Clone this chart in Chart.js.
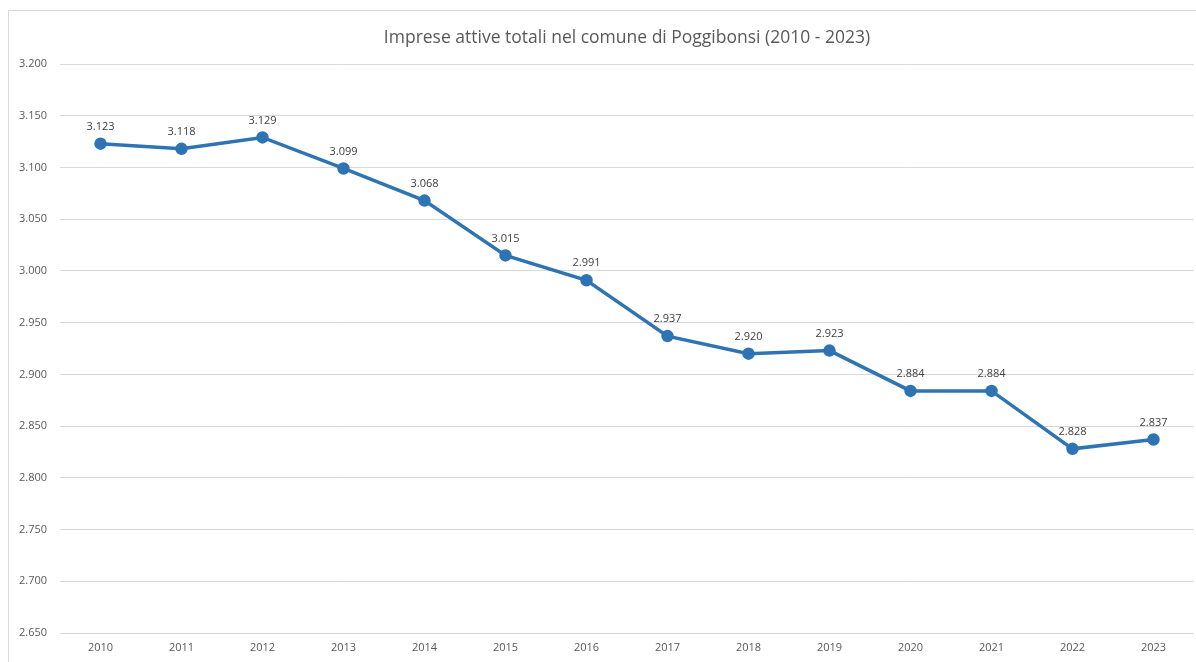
<!DOCTYPE html>
<html>
<head>
<meta charset="utf-8">
<script src="https://cdn.jsdelivr.net/npm/chart.js@4"></script>
<style>
  html, body { margin: 0; padding: 0; background: #fff; }
  body { width: 1196px; height: 662px; overflow: hidden; position: relative; }
  #box { position: absolute; left: 8px; top: 10px; width: 1196px; height: 660px;
         border-left: 1px solid #d9d9d9; border-top: 1px solid #d9d9d9; }
  #wrap { position: absolute; left: 8px; top: 10px; width: 1194px; height: 652px; }
</style>
</head>
<body>
<div id="box"></div>
<div id="wrap"><canvas id="chart"></canvas></div>
<script>
// ======= DATA =======
const ANNI = ["2010","2011","2012","2013","2014","2015","2016","2017","2018","2019","2020","2021","2022","2023"];
const IMPRESE = [3123, 3118, 3129, 3099, 3068, 3015, 2991, 2937, 2920, 2923, 2884, 2884, 2828, 2837];
const Y_MIN = 2650, Y_MAX = 3200, Y_STEP = 50;
const TITOLO = "Imprese attive totali nel comune di Poggibonsi (2010 - 2023)";

// ======= UTILS =======
function fmt(v){ return String(v).replace(/\B(?=(\d{3})+(?!\d))/g, "."); }

const FONT = "'Open Sans', 'Noto Sans', sans-serif";

// data labels above each point
const etichette = {
  id: "etichette",
  afterDatasetsDraw(chart){
    const ctx = chart.ctx;
    const meta = chart.getDatasetMeta(0);
    ctx.save();
    ctx.font = "11px " + FONT;
    ctx.fillStyle = "#404040";
    ctx.textAlign = "center";
    ctx.textBaseline = "middle";
    meta.data.forEach((pt, i) => {
      ctx.fillText(fmt(IMPRESE[i]), pt.x, pt.y - 17);
    });
    ctx.restore();
  }
};

// ======= CHART =======
new Chart(document.getElementById("chart"), {
  type: "line",
  data: {
    labels: ANNI,
    datasets: [{
      data: IMPRESE,
      borderColor: "#2e74b5",
      backgroundColor: "#2e74b5",
      borderWidth: 3.5,
      pointRadius: 4.5,
      pointHoverRadius: 4.5,
      tension: 0
    }]
  },
  options: {
    responsive: true,
    maintainAspectRatio: false,
    animation: false,
    layout: { padding: { top: 1, right: 3, left: 0, bottom: 0 } },
    plugins: {
      legend: { display: false },
      tooltip: { enabled: false },
      title: {
        display: true,
        fullSize: false,
        text: TITOLO,
        color: "#595959",
        font: { family: FONT, size: 17.5, weight: "normal" },
        padding: { top: 17, bottom: 15 }
      }
    },
    scales: {
      x: {
        offset: true,
        grid: { display: false, drawTicks: false },
        border: { display: false },
        ticks: { color: "#595959", font: { family: FONT, size: 11 }, padding: 8, maxRotation: 0 },
        afterFit(s){ s.height = 29; }
      },
      y: {
        min: Y_MIN, max: Y_MAX,
        grid: { color: "#d9d9d9", lineWidth: 1, drawTicks: false },
        border: { display: false },
        ticks: {
          stepSize: Y_STEP,
          color: "#595959",
          font: { family: FONT, size: 11 },
          padding: 13,
          callback: v => fmt(v)
        },
        afterFit(s){ s.width = 52; }
      }
    }
  },
  plugins: [etichette]
});
</script>
</body>
</html>
